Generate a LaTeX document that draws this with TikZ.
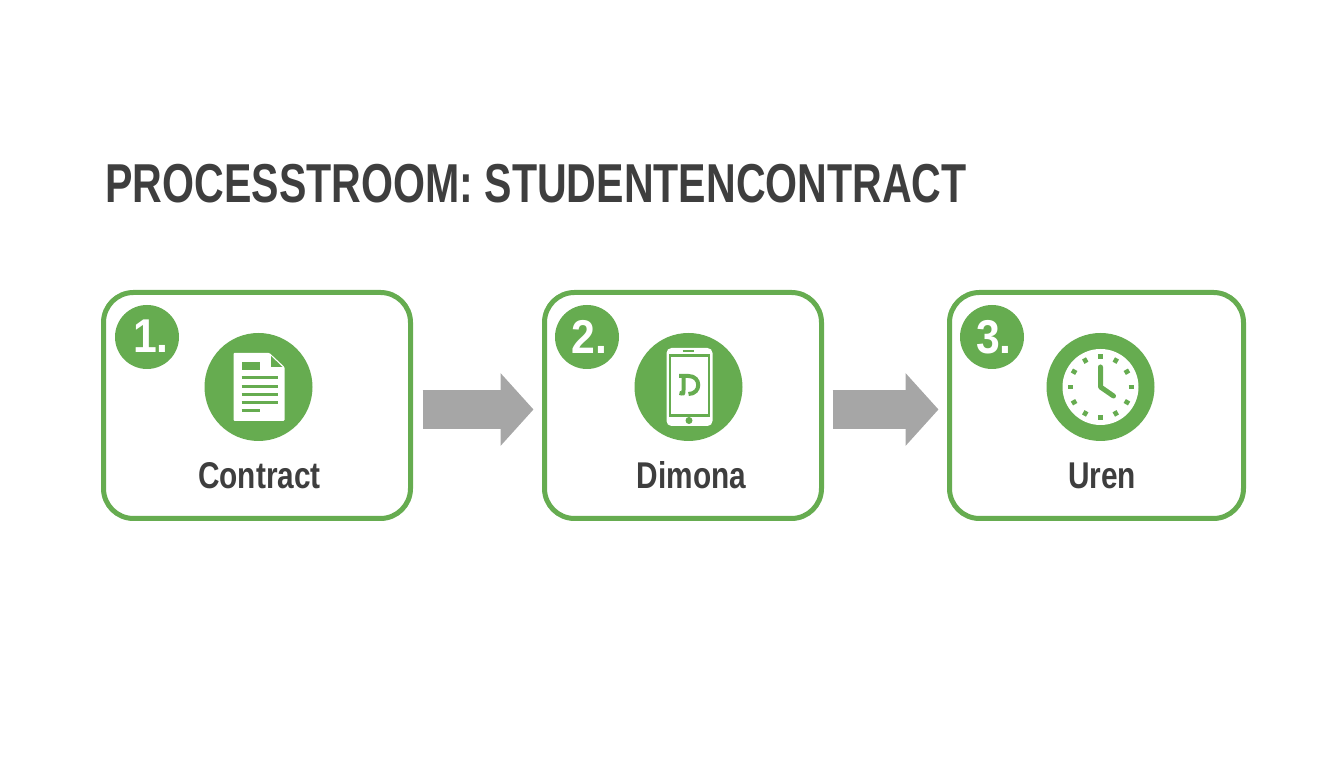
\documentclass[tikz,border=0pt]{standalone}
\usepackage{fontspec}
\setmainfont{Liberation Sans}
\usetikzlibrary{arrows.meta}
\definecolor{leaf}{HTML}{66AC50}
\definecolor{ink}{HTML}{3E3E3E}
\definecolor{flow}{HTML}{A6A6A6}
\tikzset{
	stepbox/.style={draw=leaf, line width=0.05cm, rounded corners=0.3cm, fill=white},
	badge/.style={circle, fill=leaf, minimum size=0.64cm, inner sep=0},
	badgenum/.style={text=white, font=\bfseries\fontsize{13.5}{13.5}\selectfont, xscale=0.9, transform shape, anchor=base},
	iconbg/.style={circle, fill=leaf, minimum size=1.08cm, inner sep=0},
	steplabel/.style={text=ink, font=\bfseries\fontsize{10.6}{10.6}\selectfont, xscale=0.8, transform shape, anchor=base},
	flowarrow/.style={draw=flow, line width=0.39cm, -{Triangle[length=0.33cm, width=0.71cm]}}
}

\begin{document}
\begin{tikzpicture}
		\useasboundingbox (0, 0) rectangle (13.44, 7.68);
		%%%%% TITLE %%%%%
		\node[text=ink, font=\bfseries\fontsize{15.6}{15.6}\selectfont, xscale=0.75, transform shape, anchor=base west, inner sep=0] (title) at (1.05, 5.65) {PROCESSTROOM: STUDENTENCONTRACT};
		
		%%%%% BOXES %%%%%
		\node[stepbox, minimum width=3.07cm, minimum height=2.26cm] (box1) at (2.57, 3.625) {};
		\node[stepbox, minimum width=2.77cm, minimum height=2.26cm] (box2) at (6.83, 3.625) {};
		\node[stepbox, minimum width=2.94cm, minimum height=2.26cm] (box3) at (10.965, 3.625) {};
		
		\node[badge] (badge1) at (1.47, 4.31) {};
		\node[badge] (badge2) at (5.87, 4.31) {};
		\node[badge] (badge3) at (9.92, 4.31) {};
		\node[badgenum] (num1) at (1.51, 4.15) {1.};
		\node[badgenum] (num2) at (5.895, 4.14) {2.};
		\node[badgenum] (num3) at (9.94, 4.14) {3.};
		
		\node[iconbg] (icon1) at (2.585, 3.81) {};
		\node[iconbg] (icon2) at (6.885, 3.81) {};
		\node[iconbg] (icon3) at (11.005, 3.81) {};
		
		\node[steplabel] (label1) at (2.595, 2.79) {Contract};
		\node[steplabel] (label2) at (6.915, 2.79) {Dimona};
		\node[steplabel] (label3) at (11.02, 2.79) {Uren};
		
		%%%%% ARROWS %%%%%
		\draw[flowarrow, shorten <=0.095cm, shorten >=0.085cm] ([yshift=-0.04cm]box1.east) -- ([yshift=-0.04cm]box2.west);
		\draw[flowarrow, shorten <=0.085cm, shorten >=0.085cm] ([yshift=-0.04cm]box2.east) -- ([yshift=-0.04cm]box3.west);
		
		%%%%% DOCUMENT %%%%%
		\begin{scope}[shift={(icon1)}]
			\fill[white, rounded corners=0.01cm] (-0.25, 0.34) -- (0.11, 0.34) -- (0.26, 0.2) -- (0.26, -0.34) -- (-0.25, -0.34) -- cycle;
			\fill[leaf] (0.125, 0.31) -- (0.24, 0.2) -- (0.125, 0.2) -- cycle;
			\fill[leaf] (-0.17, 0.25) rectangle (0.01, 0.17);
			\foreach \y in {0.09, 0, -0.08, -0.16}
				\draw[leaf, line width=0.03cm] (-0.17, \y) -- (0.19, \y);
			\draw[leaf, line width=0.03cm] (-0.17, -0.24) -- (0.01, -0.24);
		\end{scope}
		
		%%%%% PHONE %%%%%
		\begin{scope}[shift={(icon2)}]
			\fill[white, rounded corners=0.05cm] (-0.22, 0.39) rectangle (0.24, -0.39);
			\draw[leaf, line width=0.025cm] (-0.187, 0.313) rectangle (0.203, -0.287);
			\draw[leaf, line width=0.02cm] (-0.06, 0.36) -- (0.05, 0.36);
			\fill[leaf] (0.005, -0.335) circle (0.035);
			\draw[leaf, line width=0.04cm] (-0.095, 0.11) -- (0, 0.11) .. controls (0.13, 0.11) and (0.13, -0.07) .. (0, -0.07);
			\draw[leaf, line width=0.04cm] (-0.05, 0.11) -- (-0.05, -0.03) .. controls (-0.05, -0.07) .. (-0.09, -0.06);
		\end{scope}
		
		%%%%% CLOCK %%%%%
		\begin{scope}[shift={(icon3)}]
			\fill[white] (0, 0) circle (0.38);
			\foreach \a in {0, 30, ..., 330}
				\draw[leaf, line width=0.045cm] (\a:0.28) -- (\a:0.33);
			\draw[leaf, line width=0.05cm, line join=round, line cap=round] (0, 0.2) -- (0, 0) -- (0.13, -0.09);
		\end{scope}
		%%%%% END %%%%%
	\end{tikzpicture}
\end{document}
